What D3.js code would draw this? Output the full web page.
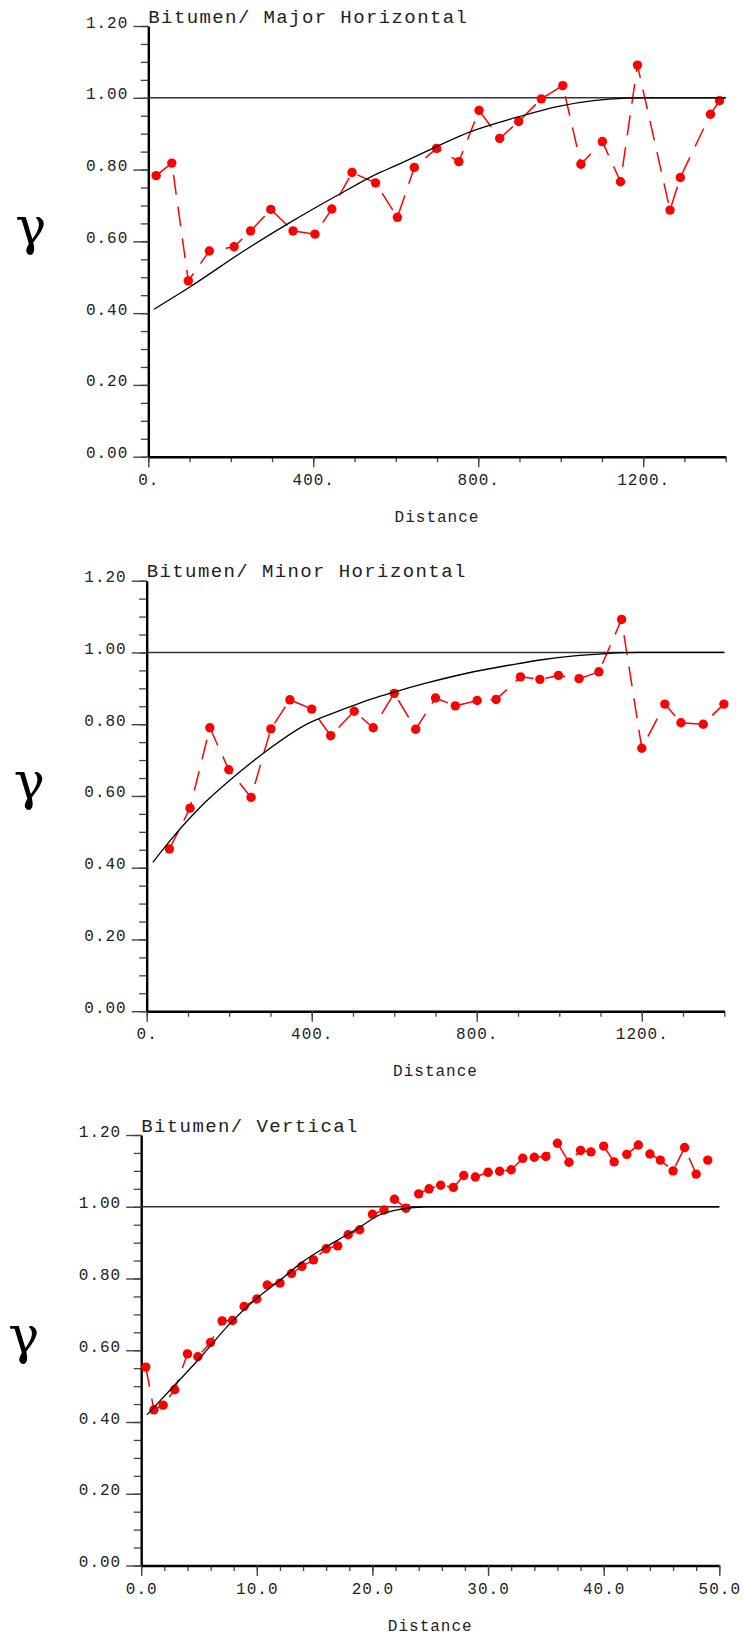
<!DOCTYPE html>
<html><head><meta charset="utf-8">
<script src="https://cdn.jsdelivr.net/npm/d3@7"></script>
<style>body{margin:0;background:#fff}svg{display:block}</style>
</head><body>
<svg id="c" width="743" height="1636"></svg>
<script>
// ---------- data ----------
const yMajorTicks = [0.00, 0.20, 0.40, 0.60, 0.80, 1.00, 1.20];
const yTickLabels = ["0.00", "0.20", "0.40", "0.60", "0.80", "1.00", "1.20"];
const horizXTicks = [0, 400, 800, 1200];
const horizXLabels = ["0.", "400.", "800.", "1200."];
const vertXTicks = [0, 10, 20, 30, 40, 50];
const vertXLabels = ["0.0", "10.0", "20.0", "30.0", "40.0", "50.0"];
const sill = 1.0;

// Major horizontal
const majorLag = [19, 57, 97, 148, 208, 248, 297, 351, 404, 445, 494, 551, 604, 645, 699, 753, 802, 852, 898, 953, 1005, 1049, 1101, 1145, 1186, 1265, 1290, 1363, 1385];
const majorGamma = [0.783, 0.818, 0.490, 0.573, 0.585, 0.629, 0.689, 0.629, 0.620, 0.690, 0.792, 0.763, 0.667, 0.806, 0.859, 0.822, 0.965, 0.887, 0.934, 0.997, 1.034, 0.815, 0.878, 0.766, 1.091, 0.687, 0.778, 0.954, 0.992];
const majorModelLag = [14, 97, 238, 340, 460, 562, 594, 699, 780, 885, 998, 1079, 1160, 1200, 1400];
const majorModelGamma = [0.411, 0.470, 0.578, 0.650, 0.729, 0.792, 0.808, 0.864, 0.905, 0.943, 0.977, 0.992, 0.999, 1.0, 1.0];

// Minor horizontal
const minorLag = [55, 105, 153, 199, 253, 301, 347, 400, 446, 503, 549, 600, 652, 700, 748, 801, 847, 906, 953, 998, 1048, 1096, 1151, 1200, 1256, 1295, 1349, 1399];
const minorGamma = [0.452, 0.566, 0.790, 0.673, 0.596, 0.787, 0.868, 0.842, 0.768, 0.836, 0.790, 0.886, 0.786, 0.873, 0.851, 0.866, 0.869, 0.932, 0.925, 0.936, 0.927, 0.946, 1.092, 0.733, 0.856, 0.804, 0.800, 0.856];
const minorModelLag = [15, 40, 129, 210, 291, 388, 452, 517, 566, 598, 679, 776, 881, 953, 1042, 1115, 1196, 1400];
const minorModelGamma = [0.415, 0.452, 0.568, 0.652, 0.726, 0.800, 0.831, 0.859, 0.878, 0.889, 0.915, 0.942, 0.965, 0.979, 0.991, 0.997, 1.0, 1.0];

// Vertical
const vertLag = [0.4, 1.1, 1.9, 2.9, 4.0, 4.9, 6.0, 7.0, 7.9, 8.9, 10.0, 10.9, 12.0, 13.0, 13.9, 14.9, 16.0, 17.0, 17.9, 18.9, 20.0, 21.0, 21.9, 22.9, 24.0, 24.9, 25.9, 27.0, 27.9, 28.9, 30.0, 31.0, 32.0, 33.0, 34.0, 35.0, 36.0, 37.0, 38.0, 38.9, 40.0, 40.9, 42.0, 43.0, 44.0, 44.9, 46.0, 47.0, 48.0, 49.0];
const vertGamma = [0.553, 0.434, 0.447, 0.490, 0.590, 0.582, 0.622, 0.682, 0.683, 0.722, 0.743, 0.782, 0.787, 0.814, 0.834, 0.852, 0.883, 0.891, 0.922, 0.936, 0.979, 0.991, 1.021, 0.996, 1.036, 1.050, 1.060, 1.054, 1.087, 1.083, 1.096, 1.099, 1.103, 1.135, 1.138, 1.140, 1.177, 1.124, 1.157, 1.153, 1.169, 1.125, 1.146, 1.172, 1.147, 1.130, 1.100, 1.165, 1.091, 1.130];
const vertModelLag = [0.5, 2.9, 4.9, 7.9, 10.0, 12.0, 13.9, 17.0, 18.9, 20.6, 22.4, 24.7, 50];
const vertModelGamma = [0.420, 0.503, 0.572, 0.682, 0.745, 0.795, 0.845, 0.907, 0.943, 0.977, 0.993, 1.0, 1.0];

// ---------- layout ----------
const panels = [
  {title: "Bitumen/ Major Horizontal", left: 148.3, right: 725.7, top: 26, bottom: 456.7, xMax: 1400, xMinor: 100,
   xt: horizXTicks, xl: horizXLabels, lag: majorLag, gam: majorGamma, mlag: majorModelLag, mgam: majorModelGamma},
  {title: "Bitumen/ Minor Horizontal", left: 146.7, right: 724.3, top: 580.7, bottom: 1011.2, xMax: 1400, xMinor: 100,
   xt: horizXTicks, xl: horizXLabels, lag: minorLag, gam: minorGamma, mlag: minorModelLag, mgam: minorModelGamma},
  {title: "Bitumen/ Vertical", left: 141.2, right: 719.3, top: 1135, bottom: 1565.5, xMax: 50, xMinor: 2,
   xt: vertXTicks, xl: vertXLabels, lag: vertLag, gam: vertGamma, mlag: vertModelLag, mgam: vertModelGamma}
];

const svg = d3.select("#c");
const MONO = "'Liberation Mono', 'DejaVu Sans Mono', monospace";

panels.forEach(p => {
  const x = d3.scaleLinear().domain([0, p.xMax]).range([p.left, p.right]);
  const y = d3.scaleLinear().domain([0, 1.2]).range([p.bottom, p.top]);
  const g = svg.append("g");

  // y minor ticks
  g.append("g").attr("transform", `translate(${p.left},0)`)
    .call(d3.axisLeft(y).tickValues(d3.range(0, 1.2001, 0.05)).tickSize(7.5).tickFormat(""))
    .call(s => s.select(".domain").remove())
    .selectAll("line").attr("stroke", "#444").attr("stroke-width", 1.3);

  // x minor ticks
  g.append("g").attr("transform", `translate(0,${p.bottom})`)
    .call(d3.axisBottom(x).tickValues(d3.range(0, p.xMax + 1e-9, p.xMinor)).tickSize(5.5).tickFormat(""))
    .call(s => s.select(".domain").remove())
    .selectAll("line").attr("stroke", "#444").attr("stroke-width", 1.3);

  // y major
  const ya = g.append("g").attr("transform", `translate(${p.left},0)`)
    .call(d3.axisLeft(y).tickValues(yMajorTicks).tickSize(15).tickSizeOuter(0).tickPadding(5)
      .tickFormat((d, i) => yTickLabels[i]));
  ya.attr("font-family", MONO).attr("font-size", 16);
  ya.select(".domain").attr("stroke", "#000").attr("stroke-width", 2.4);
  ya.selectAll(".tick line").attr("stroke", "#444").attr("stroke-width", 1.4);
  ya.selectAll(".tick text").attr("dy", 0).attr("y", 1).attr("fill", "#222").attr("letter-spacing", 1.0);

  // x major
  const xa = g.append("g").attr("transform", `translate(0,${p.bottom})`)
    .call(d3.axisBottom(x).tickValues(p.xt).tickSize(10.5).tickSizeOuter(0)
      .tickFormat((d, i) => p.xl[i]));
  xa.attr("font-family", MONO).attr("font-size", 16);
  xa.select(".domain").attr("stroke", "#000").attr("stroke-width", 2.4);
  xa.selectAll(".tick line").attr("stroke", "#444").attr("stroke-width", 1.4);
  xa.selectAll(".tick text").attr("dy", 0).attr("y", 28).attr("fill", "#222").attr("letter-spacing", 1.0);

  // sill line
  g.append("line").attr("x1", x(0)).attr("x2", x(p.xMax)).attr("y1", y(sill)).attr("y2", y(sill))
    .attr("stroke", "#333").attr("stroke-width", 1.4);

  // experimental points
  const pts = p.lag.map((v, i) => [v, p.gam[i]]);
  g.append("path").datum(pts)
    .attr("d", d3.line().x(d => x(d[0])).y(d => y(d[1])))
    .attr("fill", "none").attr("stroke", "#ff0000").attr("stroke-width", 1.5)
    .attr("stroke-dasharray", "20,12");
  g.append("g").selectAll("circle").data(pts).join("circle")
    .attr("cx", d => x(d[0])).attr("cy", d => y(d[1])).attr("r", 4.7).attr("fill", "#ff0000");

  // model curve
  const mod = p.mlag.map((v, i) => [v, p.mgam[i]]);
  g.append("path").datum(mod)
    .attr("d", d3.line().x(d => x(d[0])).y(d => y(d[1])).curve(d3.curveMonotoneX))
    .attr("fill", "none").attr("stroke", "#000").attr("stroke-width", 1.3);

  // title
  g.append("text").attr("x", p.left).attr("y", p.top - 3.5).text(p.title)
    .attr("font-family", MONO).attr("font-size", 19).attr("letter-spacing", 1.4).attr("fill", "#222");

  // x label
  g.append("text").attr("x", (p.left + p.right) / 2).attr("y", p.bottom + 65).attr("text-anchor", "middle")
    .text("Distance").attr("font-family", MONO).attr("font-size", 16).attr("letter-spacing", 1.0).attr("fill", "#222");

  // y label gamma
  g.append("text").attr("x", p.left - 133).attr("y", p.top + 218).text("γ")
    .attr("font-family", "'DejaVu Serif', serif").attr("font-size", 52).attr("fill", "#000");
});
</script>
</body></html>
